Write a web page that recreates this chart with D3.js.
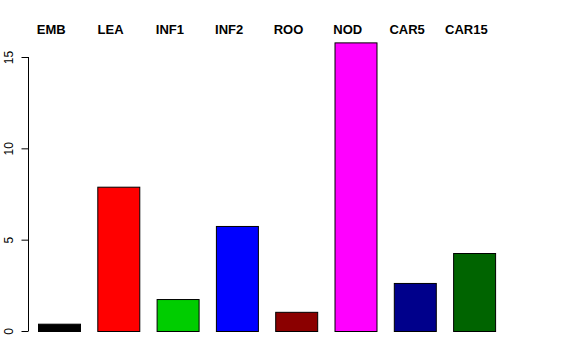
<!DOCTYPE html>
<html><head><meta charset="utf-8">
<script src="https://cdn.jsdelivr.net/npm/d3@7"></script>
<style>body{margin:0;background:#fff}svg{display:block}</style>
</head><body>
<script>
const categories = ["EMB","LEA","INF1","INF2","ROO","NOD","CAR5","CAR15"];
const values = [0.4, 7.9, 1.75, 5.75, 1.05, 15.8, 2.63, 4.27];
const colors = ["#000000","#FF0000","#00CD00","#0000FF","#8B0000","#FF00FF","#00008B","#006400"];
const yTicks = [0,5,10,15];

const W=576,H=360;
const svg=d3.select("body").append("svg").attr("width",W).attr("height",H);
const x=d3.scaleBand().domain(categories).range([38,495.1]).paddingInner(0.292).paddingOuter(0);
const y=d3.scaleLinear().domain([0,15]).range([331,57]);

svg.selectAll("rect.bar").data(categories).enter().append("rect")
  .attr("x",d=>x(d)+0.5).attr("width",x.bandwidth())
  .attr("y",(d,i)=>y(values[i])+0.5).attr("height",(d,i)=>y(0)-y(values[i]))
  .attr("fill",(d,i)=>colors[i]).attr("stroke","#000").attr("stroke-width",1);

const ax=svg.append("g").attr("transform","translate(28.5,0)")
  .call(d3.axisLeft(y).tickValues(yTicks).tickSize(7).tickPadding(9).tickFormat(d3.format("d")));
ax.select(".domain").attr("d",`M0,${y(0)}V${y(15)}`).attr("stroke","#000");
ax.selectAll(".tick line").attr("stroke","#000");
ax.selectAll(".tick text").attr("transform","rotate(-90)").attr("x",0).attr("y",-16)
  .attr("dy","0").attr("text-anchor","middle")
  .attr("font-family","Liberation Sans, Arial, sans-serif").attr("font-size",12).attr("fill","#000");

svg.selectAll("text.lab").data(categories).enter().append("text")
  .attr("x",d=>x(d)+x.bandwidth()/2-7.7).attr("y",33.5)
  .attr("text-anchor","middle").attr("font-family","Liberation Sans, Arial, sans-serif")
  .attr("font-weight","bold").attr("font-size",13).text(d=>d);
</script>
</body></html>
